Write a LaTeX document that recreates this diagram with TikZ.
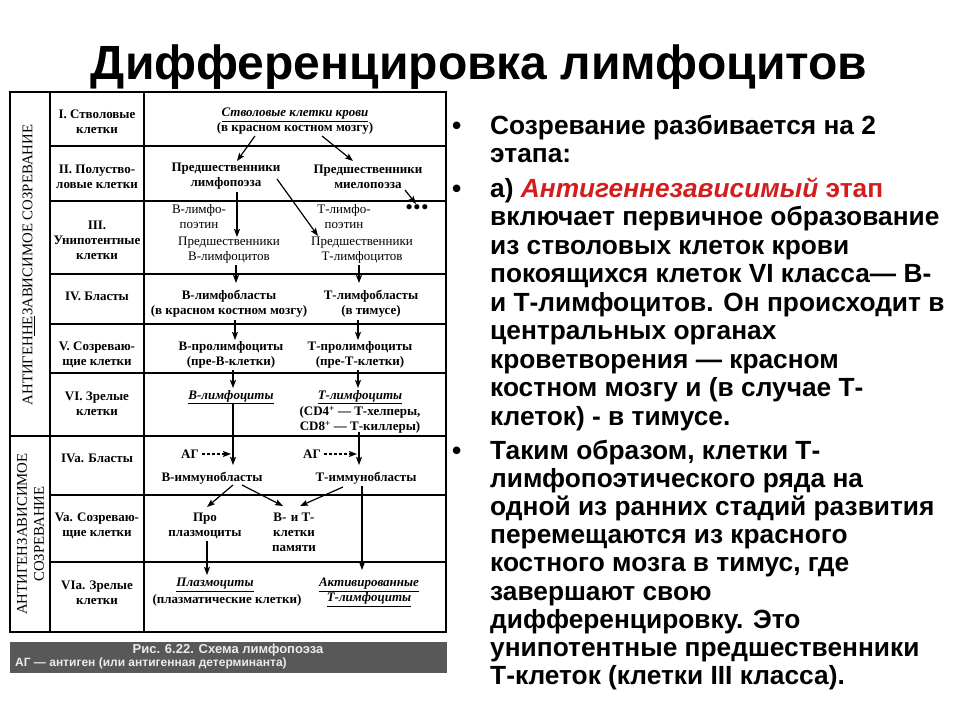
\documentclass[tikz,border=0pt]{standalone}
\usepackage{fontspec}
\setmainfont{Liberation Serif}
\newfontfamily\sansf{Liberation Sans}
\usetikzlibrary{arrows.meta,calc}
\definecolor{redtxt}{RGB}{210,30,30}
\definecolor{capgray}{RGB}{88,88,88}
\definecolor{captxt}{RGB}{235,235,235}
\begin{document}
\begin{tikzpicture}[x=1pt,y=-1pt,
  tf/.style={font=\fontsize{13}{15}\selectfont\bfseries, align=center, inner sep=0pt},
  tfm/.style={tf, font=\fontsize{13}{15}\selectfont\mdseries},
  rot/.style={font=\fontsize{14.8}{17}\selectfont, align=center, inner sep=0pt, rotate=90},
  arr/.style={-{Stealth[length=8pt,width=6pt,inset=1.5pt]}, line width=1.2pt},
  agarr/.style={arr, dash pattern=on 3pt off 2pt},
  gridline/.style={line width=1.4pt},
  rt/.style={font=\sansf\bfseries\fontsize{26.3}{28}\selectfont, anchor=base west, inner sep=0pt},
  captf/.style={font=\sansf\bfseries\fontsize{13}{14}\selectfont, text=captxt, inner sep=0pt}
]
\useasboundingbox[fill=white] (0,0) rectangle (960,720);

% title
\node[font=\sansf\bfseries\fontsize{48}{50}\selectfont, anchor=base, inner sep=0pt] (title) at (479,79) {Дифференцировка лимфоцитов};

% table frame
\draw[line width=2pt] (10,92) rectangle (446,632);
\draw[gridline] (50,92) -- (50,632);
\draw[gridline] (144,92) -- (144,632);
\foreach \yy in {146,201,274,324,373,495,562} \draw[gridline] (50,\yy) -- (446,\yy);
\draw[line width=2pt] (10,436) -- (446,436);

% rotated section labels
\node[rot] (lab1) at (28.5,265) {АНТИГЕН\underline{НЕ}ЗАВИСИМОЕ СОЗРЕВАНИЕ};
\node[rot] (lab2) at (30.5,534) {АНТИГЕНЗАВИСИМОЕ\\СОЗРЕВАНИЕ};

% stage names
\node[tf] (sI) at (97,121.5) {I. Стволовые\\клетки};
\node[tf] (sII) at (97,176.5) {II. Полуство-\\ловые клетки};
\node[tf] (sIII) at (97,240) {III.\\Унипотентные\\клетки};
\node[tf] (sIV) at (97,296) {IV. Бласты};
\node[tf] (sV) at (97,354.5) {V. Созреваю-\\щие клетки};
\node[tf] (sVI) at (97,403.5) {VI. Зрелые\\клетки};
\node[tf] (sIVa) at (97,458) {IVa. Бласты};
\node[tf] (sVa) at (97,525.5) {Va. Созреваю-\\щие клетки};
\node[tf] (sVIa) at (97,592.5) {VIa. Зрелые\\клетки};

% diagram nodes
\node[tf] (stem) at (295,121.5) {\textit{\underline{Стволовые клетки крови}}\\(в красном костном мозгу)};
\node[tf] (plp) at (226,176.5) {Предшественники\\лимфопоэза};
\node[tf] (pmp) at (368,176.5) {Предшественники\\миелопоэза};
\node[tf, font=\fontsize{19}{19}\selectfont\bfseries] (dots) at (417,209) {\textbullet\hspace{1.2pt}\textbullet\hspace{1.2pt}\textbullet};
\node[tfm] (blp) at (199,217) {В-лимфо-\\поэтин};
\node[tfm] (tlp) at (344,217) {Т-лимфо-\\поэтин};
\node[tfm] (pbl) at (229,250) {Предшественники\\В-лимфоцитов};
\node[tfm] (ptl) at (362,250) {Предшественники\\Т-лимфоцитов};
\node[tf] (bbl) at (229,304) {В-лимфобласты\\(в красном костном мозгу)};
\node[tf] (tbl) at (371,304) {Т-лимфобласты\\(в тимусе)};
\node[tf] (bpl) at (231,354.5) {В-пролимфоциты\\(пре-В-клетки)};
\node[tf] (tpl) at (360,354.5) {Т-пролимфоциты\\(пре-Т-клетки)};
\node[tf] (bly) at (231,397) {\textit{\underline{В-лимфоциты}}};
\node[tf] (tly) at (360,397) {\textit{\underline{Т-лимфоциты}}};
\node[tf] (cd) at (360,419.5) {(CD4\textsuperscript{+} — Т-хелперы,\\CD8\textsuperscript{+} — Т-киллеры)};
\node[tf] (ag1) at (190,454) {АГ};
\node[tf] (ag2) at (312,454) {АГ};
\node[tf] (bim) at (212,478) {В-иммунобласты};
\node[tf] (tim) at (366,478) {Т-иммунобласты};
\node[tf] (ppl) at (205,525.5) {Про\\плазмоциты};
\node[tf] (mem) at (294,532) {В-\,\,и Т-\\клетки\\памяти};
\node[tf] (plz) at (215,585) {\textit{\underline{Плазмоциты}}};
\node[tf] (plzc) at (227,600) {(плазматические клетки)};
\node[tf] (act) at (369,592.5) {\textit{\underline{Активированные}}\\\textit{\underline{Т-лимфоциты}}};

% arrows
\draw[arr] ($(stem)+(-40,14.5)$) -- ($(plp)+(11,-15.5)$);
\draw[arr] ($(stem)+(27,14.5)$) -- ($(pmp)+(-15,-15.5)$);
\draw[arr] ($(plp)+(11,15.5)$) -- ($(pbl)+(8,-13)$);
\draw[arr] ($(plp)+(51,2.5)$) -- ($(ptl)+(-44,-14)$);
\draw[arr] ($(pmp)+(37,13.5)$) -- ($(dots)+(-1,-5)$);
\draw[arr] ($(pbl)+(7,15)$) -- ($(bbl)+(7,-21)$);
\draw[arr] ($(ptl)+(-3,15)$) -- ($(tbl)+(-12,-21)$);
\draw[arr] ($(bbl)+(6,16)$) -- ($(bpl)+(4,-14.5)$);
\draw[arr] ($(tbl)+(-13,16)$) -- ($(tpl)+(-2,-14.5)$);
\draw[arr] ($(bpl)+(2,15.5)$) -- ($(bly)+(2,-9)$);
\draw[arr] ($(tpl)+(-2,15.5)$) -- ($(tly)+(-2,-9)$);
\draw[arr] ($(bly)+(2,7)$) -- ($(bim)+(21,-13)$);
\draw[arr] ($(cd)+(-1,12.5)$) -- ($(tim)+(-7,-13)$);
\draw[agarr] (ag1.east) ++(3,0) -- ($(bim)+(19,-24)$);
\draw[agarr] (ag2.east) ++(3,0) -- ($(tim)+(-9,-24)$);
\draw[arr] ($(bim)+(21,7)$) -- ($(ppl)+(2,-18.5)$);
\draw[arr] ($(bim)+(30,7)$) -- ($(mem)+(-11,-26)$);
\draw[arr] ($(tim)+(-23,9)$) -- ($(mem)+(6,-26)$);
\draw[arr] ($(tim)+(-4,8)$) -- ($(act)+(-7,-22.5)$);
\draw[arr] ($(ppl)+(2,15.5)$) -- ($(plz)+(-8,-10)$);

% caption bar
\fill[capgray] (10,642) rectangle (447,673);
\node[captf, anchor=base] (cap1) at (228,653.5) {Рис. 6.22. Схема лимфопоэза};
\node[captf, anchor=base west, font=\sansf\bfseries\fontsize{12}{14}\selectfont] (cap2) at (15,666.5) {АГ — антиген (или антигенная детерминанта)};

% right text
\node[rt] (b1) at (452,134) {•};
\node[rt] (b2) at (452,197) {•};
\node[rt] (b3) at (452,459) {•};
\foreach \t [count=\i] in {{Созревание разбивается на 2},{этапа:}}
  \node[rt] (pa\i) at (490,{134+(\i-1)*28.4}) {\t};
\foreach \t [count=\i] in {{а) {\color{redtxt}\itshape Антигеннезависимый} {\color{redtxt}этап}},
  {включает первичное образование},{из стволовых клеток крови},
  {покоящихся клеток VI класса— В-},{и Т-лимфоцитов. Он происходит в},
  {центральных органах},{кроветворения — красном},
  {костном мозгу и (в случае Т-},{клеток) - в тимусе.}}
  \node[rt] (pb\i) at (490,{197+(\i-1)*28.5}) {\t};
\foreach \t [count=\i] in {{Таким образом, клетки Т-},{лимфопоэтического ряда на},
  {одной из ранних стадий развития},{перемещаются из красного},
  {костного мозга в тимус, где},{завершают свою},{дифференцировку. Это},
  {унипотентные предшественники},{Т-клеток (клетки III класса).}}
  \node[rt] (pc\i) at (490,{459+(\i-1)*28.2}) {\t};
\end{tikzpicture}
\end{document}
